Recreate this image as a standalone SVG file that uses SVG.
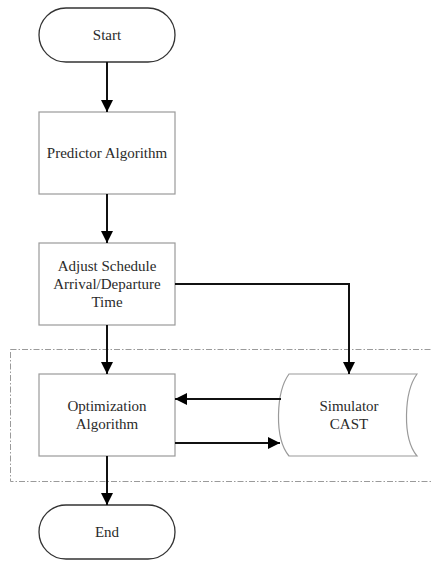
<svg xmlns="http://www.w3.org/2000/svg" width="432" height="561" viewBox="0 0 432 561">
  <style>
    .term { fill: #fff; stroke: #333; stroke-width: 1.3; }
    .box { fill: #fff; stroke: #9a9a9a; stroke-width: 1.2; }
    .lbl { font-family: "Liberation Serif", "Times New Roman", serif; font-size: 15px; fill: #2a2a2a; text-anchor: middle; }
    .edge { fill: none; stroke: #111; stroke-width: 2; marker-end: url(#arrow); }
    .frame { fill: none; stroke: #9a9a9a; stroke-width: 1; stroke-dasharray: 6 2 1.5 2; }
  </style>
  <defs>
    <marker id="arrow" viewBox="0 0 12 12" refX="12" refY="6" markerWidth="12" markerHeight="12" markerUnits="userSpaceOnUse" orient="auto">
      <path d="M0,0 L12,6 L0,12 Z" fill="#000"/>
    </marker>
  </defs>
  <rect width="432" height="561" fill="#fff"/>

  <!-- simulation loop frame -->
  <rect class="frame" x="10.5" y="349.5" width="430" height="132"/>

  <g id="start">
    <rect class="term" x="39" y="8" width="136" height="54" rx="27" ry="27"/>
    <text class="lbl" x="107" y="40">Start</text>
  </g>

  <g id="predictor">
    <rect class="box" x="39" y="112" width="136" height="82"/>
    <text class="lbl" x="107" y="158">Predictor Algorithm</text>
  </g>

  <g id="adjust">
    <rect class="box" x="39" y="243" width="136" height="82"/>
    <text class="lbl" x="107" y="271">Adjust Schedule</text>
    <text class="lbl" x="107" y="289">Arrival/Departure</text>
    <text class="lbl" x="107" y="307">Time</text>
  </g>

  <g id="optimization">
    <rect class="box" x="39" y="374" width="136" height="82"/>
    <text class="lbl" x="107" y="411">Optimization</text>
    <text class="lbl" x="107" y="429">Algorithm</text>
  </g>

  <g id="simulator">
    <path class="box" d="M289,374 L417,374 C404,392 402,438 417,456 L289,456 C274,438 276,392 289,374 Z"/>
    <text class="lbl" x="349" y="411">Simulator</text>
    <text class="lbl" x="349" y="429">CAST</text>
  </g>

  <g id="end">
    <rect class="term" x="39" y="505" width="136" height="54" rx="27" ry="27"/>
    <text class="lbl" x="107" y="537">End</text>
  </g>

  <g id="connectors">
    <path class="edge" d="M107,62 L107,112"/>
    <path class="edge" d="M107,194 L107,243"/>
    <path class="edge" d="M175,284 L349,284 L349,374"/>
    <path class="edge" d="M107,325 L107,374"/>
    <path class="edge" d="M281,399 L175,399"/>
    <path class="edge" d="M175,443 L280,443"/>
    <path class="edge" d="M107,456 L107,505"/>
  </g>
</svg>
